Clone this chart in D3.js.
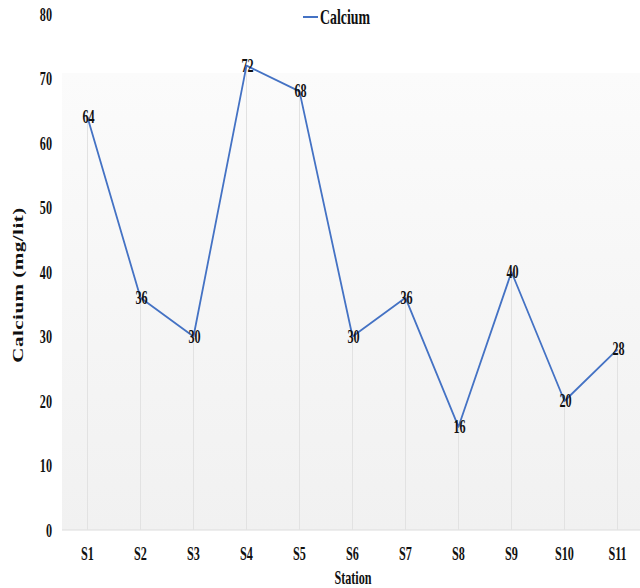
<!DOCTYPE html>
<html>
<head>
<meta charset="utf-8">
<script src="https://cdn.jsdelivr.net/npm/d3@7"></script>
<style>
  body { margin: 0; background: #fff; }
  svg { display: block; }
  text { font-family: "Liberation Serif", "Times New Roman", serif; font-weight: bold; fill: #111; }
</style>
</head>
<body>
<svg id="chart" width="640" height="588"></svg>
<script>
// Calcium concentration per sampling station
const stations = ["S1", "S2", "S3", "S4", "S5", "S6", "S7", "S8", "S9", "S10", "S11"];
const calcium = [64, 36, 30, 72, 68, 30, 36, 16, 40, 20, 28];
const yTicks = [0, 10, 20, 30, 40, 50, 60, 70, 80];
const seriesName = "Calcium";

const svg = d3.select("#chart");
const plotLeft = 62, plotRight = 640, plotTop = 14, plotBottom = 530;
const squeeze = 0.64; // narrow type
const fs = 19;

const x = d3.scaleBand().domain(stations).range([plotLeft - 1, plotLeft + 582]);
const y = d3.scaleLinear().domain([0, 80]).range([plotBottom, plotTop]);
const cx = s => x(s) + x.bandwidth() / 2;

// plot background
const defs = svg.append("defs");
const grad = defs.append("linearGradient").attr("id", "bg")
  .attr("x1", 0).attr("y1", 0).attr("x2", 0).attr("y2", 1);
grad.append("stop").attr("offset", "0%").attr("stop-color", "#fbfbfb");
grad.append("stop").attr("offset", "100%").attr("stop-color", "#f1f1f1");
svg.append("rect")
  .attr("x", plotLeft).attr("y", 73)
  .attr("width", plotRight - plotLeft).attr("height", plotBottom - 73)
  .attr("fill", "url(#bg)");

// x axis line
svg.append("line")
  .attr("x1", plotLeft).attr("x2", plotRight)
  .attr("y1", plotBottom).attr("y2", plotBottom)
  .attr("stroke", "#dcdcdc").attr("stroke-width", 1);

// drop lines
svg.append("g").selectAll("line").data(stations).join("line")
  .attr("x1", d => cx(d)).attr("x2", d => cx(d))
  .attr("y1", (d, i) => y(calcium[i])).attr("y2", plotBottom)
  .attr("stroke", "#e2e2e2").attr("stroke-width", 1);

// y tick labels
svg.append("g").selectAll("text").data(yTicks).join("text")
  .attr("transform", d => `translate(52,${y(d) + 6.5}) scale(${squeeze},1)`)
  .attr("text-anchor", "end")
  .attr("font-size", fs)
  .text(d => d);

// x tick labels
svg.append("g").selectAll("text").data(stations).join("text")
  .attr("transform", d => `translate(${cx(d)},${plotBottom + 30}) scale(${squeeze},1)`)
  .attr("text-anchor", "middle")
  .attr("font-size", fs)
  .text(d => d);

// line
const line = d3.line().x((d, i) => cx(stations[i])).y(d => y(d));
svg.append("path").datum(calcium)
  .attr("d", line)
  .attr("fill", "none")
  .attr("stroke", "#4472c4")
  .attr("stroke-width", 1.8)
  .attr("stroke-linejoin", "round");

// value labels
svg.append("g").selectAll("text").data(calcium).join("text")
  .attr("transform", (d, i) => `translate(${cx(stations[i]) + 1},${y(d) + 6}) scale(${squeeze},1)`)
  .attr("text-anchor", "middle")
  .attr("font-size", fs)
  .text(d => d);

// axis titles
svg.append("text")
  .attr("transform", `translate(23,285) rotate(-90) scale(1,${squeeze + 0.06})`)
  .attr("text-anchor", "middle")
  .attr("font-size", 21)
  .attr("letter-spacing", 0.5)
  .text("Calcium (mg/lit)");

svg.append("text")
  .attr("transform", `translate(353,584) scale(${squeeze},1)`)
  .attr("text-anchor", "middle")
  .attr("font-size", fs)
  .text("Station");

// legend
const lg = svg.append("g");
lg.append("line")
  .attr("x1", 303).attr("x2", 318).attr("y1", 17).attr("y2", 17)
  .attr("stroke", "#4472c4").attr("stroke-width", 2);
lg.append("text")
  .attr("transform", `translate(320,24) scale(0.66,1)`)
  .attr("font-size", 21)
  .text(seriesName);
</script>
</body>
</html>
